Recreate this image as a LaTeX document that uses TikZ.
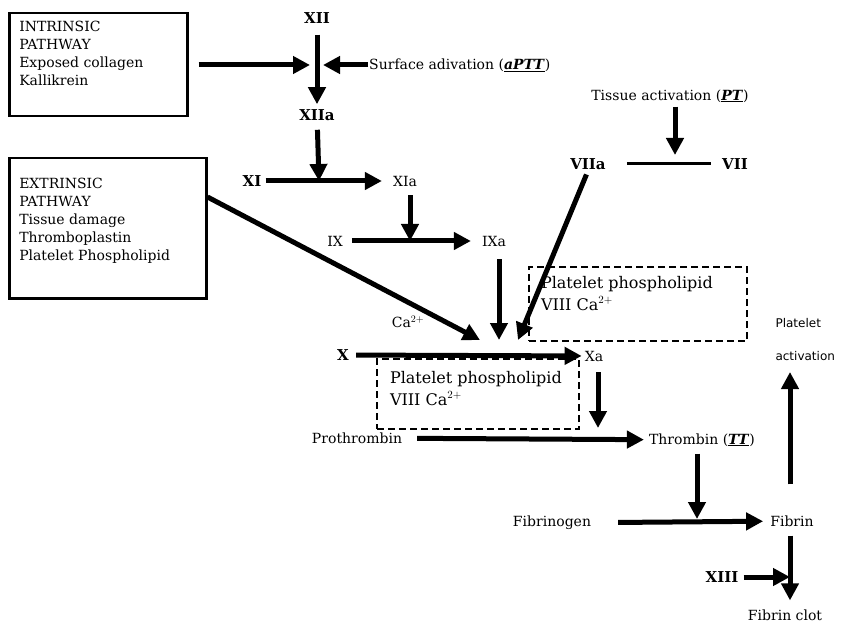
\documentclass[tikz,border=0pt]{standalone}
\usepackage{fontspec}
\setmainfont{DejaVu Serif}
\newfontfamily\platfont{DejaVu Sans}
\usetikzlibrary{arrows.meta,positioning}
\tikzstyle{pathBox} = [rectangle, draw=black, line width=2.5pt, inner sep=0pt, font=\fontsize{14}{18}\selectfont]
\tikzstyle{dashBox} = [rectangle, draw=black, line width=2pt, dash pattern=on 7pt off 4pt, inner sep=0pt, font=\fontsize{16}{22}\selectfont]
\tikzstyle{fNode} = [inner sep=1pt, font=\fontsize{14}{18}\selectfont]
\tikzstyle{fNodeB} = [fNode, font=\fontsize{15}{18}\selectfont\bfseries]
\tikzstyle{arrowF} = [line width=5pt, -{Triangle[length=17pt,width=17pt]}]
\tikzstyle{lineF} = [line width=3pt]

\begin{document}
\begin{tikzpicture}[x=1pt,y=-1pt]
        \useasboundingbox (0,0) rectangle (841,631);
        \node (intrinsic) [pathBox, anchor=north west] at (8,12) {\parbox[t][103pt][t]{178pt}{\vspace*{8pt}\leftskip=10pt INTRINSIC\\PATHWAY\\Exposed collagen\\Kallikrein}};
        \node (extrinsic) [pathBox, anchor=north west] at (8,157) {\parbox[t][140pt][t]{197pt}{\vspace*{20pt}\leftskip=10pt EXTRINSIC\\PATHWAY\\Tissue damage\\Thromboplastin\\Platelet Phospholipid}};

        \node (xii) [fNodeB] at (317,18) {XII};
        \node (xiia) [fNodeB] at (317,115) {XIIa};
        \node (surface) [fNode, anchor=west] at (368,65) {Surface adivation (\underline{\textbf{\textit{aPTT}}})};
        \node (xi) [fNodeB] at (252,181) {XI};
        \node (xia) [fNode] at (405,181) {XIa};
        \node (ix) [fNode] at (335,241) {IX};
        \node (ixa) [fNode] at (494,241) {IXa};
        \node (tissue) [fNode] at (670,96) {Tissue activation (\underline{\textbf{\textit{PT}}})};
        \node (viia) [fNodeB] at (588,164) {VIIa};
        \node (vii) [fNodeB] at (735,164) {VII};
        \node (ca) [fNode] at (408,322) {Ca$^{2+}$};
        \node (x) [fNodeB] at (343,355) {X};
        \node (xa) [fNode] at (594,356) {Xa};
        \node (pplUp) [dashBox, anchor=north west] at (528,266) {\parbox[t][74pt][t]{218pt}{\vspace*{9pt}\leftskip=12pt Platelet phospholipid\\VIII Ca$^{2+}$}};
        \node (pplLow) [dashBox, anchor=north west] at (376,358) {\parbox[t][70pt][t]{202pt}{\vspace*{12pt}\leftskip=13pt Platelet phospholipid\\VIII Ca$^{2+}$}};
        \node (platelet) [anchor=west, align=left, font=\platfont\fontsize{12}{33}\selectfont] at (772,340) {Platelet\\activation};
        \node (prothrombin) [fNode] at (357,438) {Prothrombin};
        \node (thrombin) [fNode] at (702,440) {Thrombin (\underline{\textbf{\textit{TT}}})};
        \node (fibrinogen) [fNode] at (552,523) {Fibrinogen};
        \node (fibrin) [fNode] at (792,521) {Fibrin};
        \node (xiii) [fNodeB] at (722,577) {XIII};
        \node (clot) [fNode] at (785,615) {Fibrin clot};

        \coordinate (jXII) at (310,65);
        \coordinate (jXIIr) at (323,65);
        \coordinate (jXI) at (319,181);
        \coordinate (jIX) at (410,241);
        \coordinate (jVII) at (675,155);
        \coordinate (jXl) at (480,340);
        \coordinate (jX) at (499,340);
        \coordinate (jXr) at (518,340);
        \coordinate (jII) at (598,428);
        \coordinate (jFib) at (697,519);
        \coordinate (jPlt) at (790,372);
        \coordinate (jClot) at (790,577);

        \draw [arrowF, shorten <=10pt] (intrinsic.east |- jXII) -- (jXII);
        \draw [arrowF] (surface.west) -- (jXIIr);
        \draw [arrowF, shorten <=10pt, shorten >=4pt] (xii) -- (xiia);
        \draw [arrowF, shorten <=8pt] (xiia) -- (jXI);
        \draw [arrowF, shorten <=3pt, shorten >=10pt] (xi) -- (xia);
        \draw [arrowF, shorten <=8pt] (jIX |- xia.south) -- (jIX);
        \draw [arrowF, shorten <=8pt, shorten >=10pt] (ix) -- (ixa);
        \draw [arrowF, shorten <=12pt] (jX |- ixa.south) -- (jX);
        \draw [arrowF, shorten <=3pt] (jVII |- tissue.south) -- (jVII);
        \draw [lineF, shorten <=20pt, shorten >=10pt] (viia) -- (vii);
        \draw [arrowF, shorten <=4pt] (viia.south) -- (jXr);
        \draw [arrowF] ([yshift=-40pt]extrinsic.north east) -- (jXl);
        \draw [arrowF, shorten <=6pt, shorten >=2pt] (x) -- (xa);
        \draw [arrowF, shorten <=10pt] (jII |- xa.south) -- (jII);
        \draw [arrowF, shorten <=14pt, shorten >=4pt] (prothrombin) -- (thrombin);
        \draw [arrowF, shorten <=6pt] (jFib |- thrombin.south) -- (jFib);
        \draw [arrowF, shorten <=26pt, shorten >=6pt] (fibrinogen) -- (fibrin);
        \draw [arrowF, shorten <=30pt] (jPlt |- fibrin.north) -- (jPlt);
        \draw [arrowF, shorten <=8pt, shorten >=8pt] (jClot |- fibrin.south) -- (jClot |- clot.north);
        \draw [arrowF, shorten <=4pt] (xiii) -- (jClot);
    \end{tikzpicture}
\end{document}
